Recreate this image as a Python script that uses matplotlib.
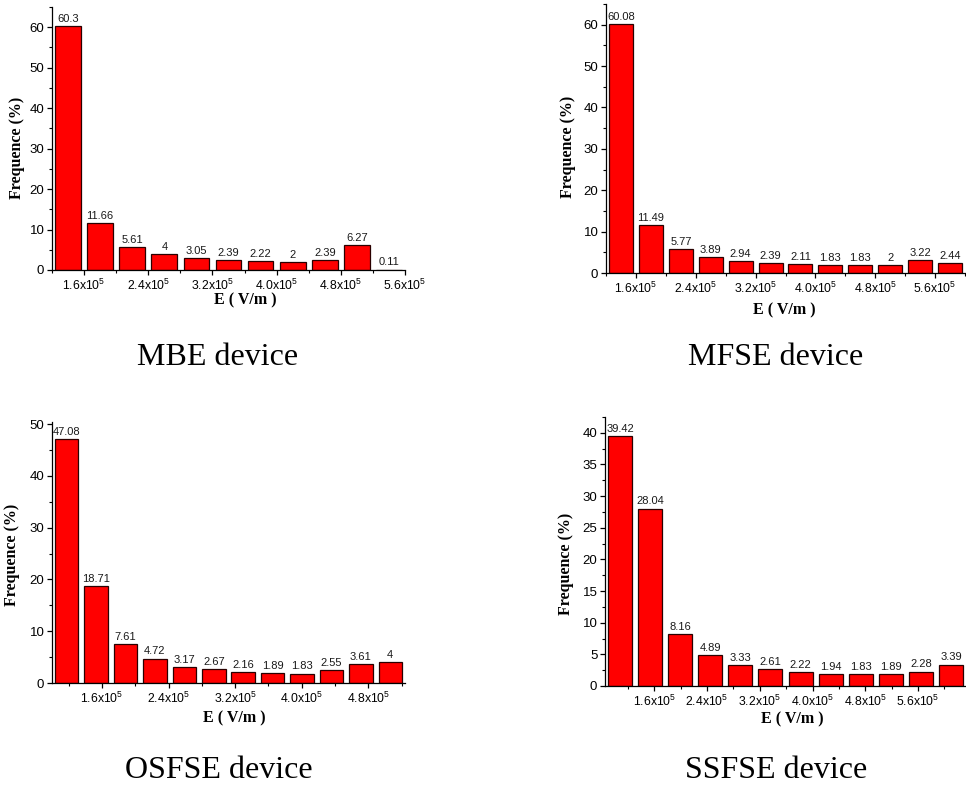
"""
Histogramas de frecuencia del campo eléctrico E para los cuatro dispositivos.
Salida: out.png (966x787)
"""

import matplotlib
matplotlib.use("Agg")
import matplotlib.pyplot as plt
import numpy as np
from matplotlib.ticker import MultipleLocator

plt.rcParams["font.family"] = ["Liberation Sans", "DejaVu Sans"]
plt.rcParams["mathtext.fontset"] = "custom"
plt.rcParams["mathtext.rm"] = "Liberation Sans"
plt.rcParams["mathtext.default"] = "regular"

# valores de frecuencia (%)
mbe = [60.3, 11.66, 5.61, 4, 3.05, 2.39, 2.22, 2, 2.39, 6.27, 0.11]
mfse = [60.08, 11.49, 5.77, 3.89, 2.94, 2.39, 2.11, 1.83, 1.83, 2, 3.22, 2.44]
osfse = [47.08, 18.71, 7.61, 4.72, 3.17, 2.67, 2.16, 1.89, 1.83, 2.55, 3.61, 4]
ssfse = [39.42, 28.04, 8.16, 4.89, 3.33, 2.61, 2.22, 1.94, 1.83, 1.89, 2.28, 3.39]

titulos = ["MBE device", "MFSE device", "OSFSE device", "SSFSE device"]

# marcas del eje E (en unidades de 1e5 V/m)
ticks_mbe = [1.6, 2.4, 3.2, 4.0, 4.8, 5.6]
ticks_mfse = [1.6, 2.4, 3.2, 4.0, 4.8, 5.6]
ticks_osfse = [1.6, 2.4, 3.2, 4.0, 4.8]
ticks_ssfse = [1.6, 2.4, 3.2, 4.0, 4.8, 5.6]

# (datos, ticks, xlim, ylim, paso mayor y, rect de ejes en px, centro etiqueta x, centro etiqueta y, centro título)
PANELES = [
    (mbe, ticks_mbe, (1.2, 5.6), (0, 65), 10, (52, 7, 405, 270), (245, 300), (17, 148), (218, 365)),
    (mfse, ticks_mfse, (1.2, 6.0), (0, 65), 10, (606, 4, 965, 273), (784, 310), (568, 147), (776, 365)),
    (osfse, ticks_osfse, (1.0, 5.24), (0, 50.4), 10, (52, 422, 405, 683), (234, 718), (12, 555), (219, 778)),
    (ssfse, ticks_ssfse, (0.85, 6.33), (0, 42.5), 5, (605, 417, 966, 686), (792, 719), (566, 564), (776, 778)),
]

W, H = 966, 787


def dibujar_panel(fig, datos, ticks, xlim, ylim, paso_y, rect, pos_xl, pos_yl, pos_tit, titulo):
    x0, y0, x1, y1 = rect
    ax = fig.add_axes([x0 / W, 1 - y1 / H, (x1 - x0) / W, (y1 - y0) / H])

    n = len(datos)
    ancho = (xlim[1] - xlim[0]) / n
    centros = xlim[0] + (np.arange(n) + 0.5) * ancho
    barras = ax.bar(centros, datos, width=ancho * 0.8, color="#ff0000",
                    edgecolor="#2a0000", linewidth=0.9)
    ax.bar_label(barras, labels=[f"{v:g}" for v in datos], padding=1.5,
                 fontsize=8, color="#1a1a1a")

    ax.set_xlim(*xlim)
    ax.set_ylim(*ylim)
    ax.set_xticks(ticks)
    ax.set_xticklabels([f"{t:.1f}x10$^{{5}}$" for t in ticks], fontsize=8.8)
    ax.xaxis.set_minor_locator(MultipleLocator(0.4))
    ax.yaxis.set_major_locator(MultipleLocator(paso_y))
    ax.yaxis.set_minor_locator(MultipleLocator(paso_y / 2))
    ax.tick_params(axis="y", labelsize=9.5)

    for s in ("top", "right"):
        ax.spines[s].set_visible(False)
    for s in ("left", "bottom"):
        ax.spines[s].set_linewidth(0.9)
    ax.tick_params(which="major", direction="out", length=3.5, width=0.9, pad=2)
    ax.tick_params(which="minor", direction="out", length=2, width=0.8)

    fig.text(pos_xl[0] / W, 1 - pos_xl[1] / H, "E ( V/m )", ha="center", va="center",
             family="Liberation Serif", fontweight="bold", fontsize=11.5)
    fig.text(pos_yl[0] / W, 1 - pos_yl[1] / H, "Frequence (%)", ha="center", va="center",
             rotation=90, family="Liberation Serif", fontweight="bold", fontsize=11.5)
    fig.text(pos_tit[0] / W, 1 - pos_tit[1] / H, titulo, ha="center", va="baseline",
             family="Liberation Serif", fontsize=23)
    return ax


def main():
    fig = plt.figure(figsize=(W / 100, H / 100), dpi=100)
    for panel, titulo in zip(PANELES, titulos):
        dibujar_panel(fig, *panel, titulo)
    fig.savefig("out.png", dpi=100)
    plt.close(fig)


if __name__ == "__main__":
    main()
